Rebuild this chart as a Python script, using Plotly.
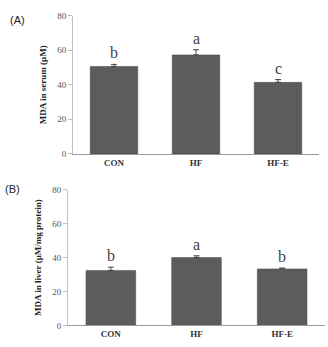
import plotly.graph_objects as go

groups = ["CON", "HF", "HF-E"]
serum_mda = [50.6, 57.3, 41.4]
serum_err = [1.2, 3.0, 1.6]
serum_letters = ["b", "a", "c"]
liver_mda = [32.4, 40.0, 33.3]
liver_err = [1.9, 1.0, 0.5]
liver_letters = ["b", "a", "b"]
y_ticks = [0, 20, 40, 60, 80]

W, H = 328, 347
BAR = "#5c5c5c"
SERIF = "Liberation Serif"

fig = go.Figure()

def add_panel(vals, errs, letters, xa, ya):
    fig.add_trace(go.Bar(
        x=groups, y=vals, xaxis=xa, yaxis=ya, width=0.58,
        marker=dict(color=BAR, line=dict(color="#4a4a4a", width=0.5)),
        error_y=dict(type="data", array=errs, arrayminus=[0] * len(errs),
                     symmetric=False, color="#444444", thickness=1, width=3),
        showlegend=False,
    ))
    for g, v, e, l in zip(groups, vals, errs, letters):
        fig.add_annotation(x=g, y=v + e, xref=xa, yref=ya, text=l,
                           showarrow=False, yanchor="bottom", yshift=1,
                           font=dict(family=SERIF, size=16, color="#444444"))

add_panel(serum_mda, serum_err, serum_letters, "x", "y")
add_panel(liver_mda, liver_err, liver_letters, "x2", "y2")

def xax(domain):
    return dict(domain=domain, range=[-0.5, 2.5], showline=True, linecolor="#9a9a9a",
                linewidth=1, ticks="", showgrid=False, zeroline=False,
                tickprefix="<b>", ticksuffix="</b>",
                tickfont=dict(family=SERIF, size=9, color="#333333"))

def yax(domain, title, anchor):
    return dict(domain=domain, range=[0, 80], tickvals=y_ticks, showline=True,
                linecolor="#c0c0c0", linewidth=1, ticks="outside", ticklen=4,
                tickcolor="#c0c0c0", showgrid=False, zeroline=False, anchor=anchor,
                tickprefix="<b>", ticksuffix="</b>",
                tickfont=dict(family=SERIF, size=9, color="#555555"),
                title=dict(text=title, standoff=9,
                           font=dict(family=SERIF, size=9, color="#222222")))

fig.update_layout(
    width=W, height=H, margin=dict(l=0, r=0, t=0, b=0),
    paper_bgcolor="white", plot_bgcolor="white", bargap=0.4,
    xaxis=dict(xax([73 / W, 319 / W]), anchor="y"),
    yaxis=yax([1 - 153.3 / H, 1 - 11 / H], "<b>MDA in serum (μM)</b>", "x"),
    xaxis2=dict(xax([68 / W, 325 / W]), anchor="y2"),
    yaxis2=yax([1 - 330 / H, 1 - 190 / H], "<b>MDA in liver (μM/mg protein)</b>", "x2"),
)

fig.add_annotation(x=8 / W, y=1 - 15 / H, xref="paper", yref="paper", text="(A)",
                   showarrow=False, xanchor="left", yanchor="middle",
                   font=dict(family="Liberation Sans", size=11, color="#222222"))
fig.add_annotation(x=3 / W, y=1 - 189 / H, xref="paper", yref="paper", text="(B)",
                   showarrow=False, xanchor="left", yanchor="middle",
                   font=dict(family="Liberation Sans", size=11, color="#222222"))

fig.write_html("out.html")
